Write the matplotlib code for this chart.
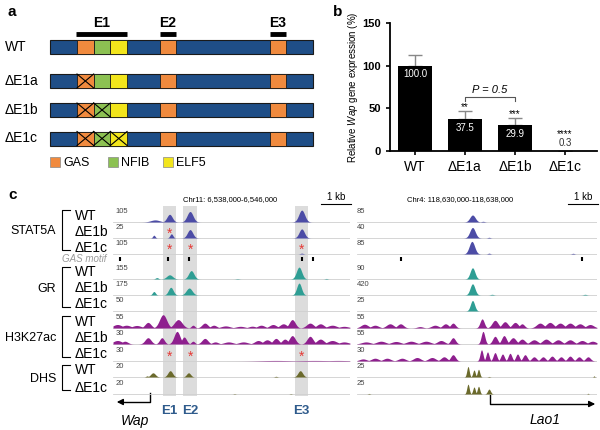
import numpy as np
import matplotlib.pyplot as plt
from matplotlib.patches import Rectangle

plt.rcParams['font.family'] = ['Liberation Sans', 'DejaVu Sans']
plt.rcParams['mathtext.fontset'] = 'custom'
plt.rcParams['mathtext.it'] = 'Liberation Sans:italic'
plt.rcParams['mathtext.rm'] = 'Liberation Sans'

# ---- panel a data ----
constructs = ['WT', 'ΔE1a', 'ΔE1b', 'ΔE1c']
deleted = [[], ['GAS'], ['GAS', 'NFIB'], ['GAS', 'NFIB', 'ELF5']]
motif_names = ['GAS', 'NFIB', 'ELF5']
motif_colors = {'GAS': '#F08A3E', 'NFIB': '#8CC152', 'ELF5': '#F2E51C'}
enh_names = ['E1', 'E2', 'E3']

# ---- panel b data ----
groups = ['WT', 'ΔE1a', 'ΔE1b', 'ΔE1c']
expr = [100.0, 37.5, 29.9, 0.3]
err = [12.5, 9.0, 8.5, 0.0]
signif = ['', '**', '***', '****']

# ---- panel c data ----
factors = ['STAT5A', 'GR', 'H3K27ac', 'DHS']
factor_rows = [['WT', 'ΔE1b', 'ΔE1c'], ['WT', 'ΔE1b', 'ΔE1c'],
               ['WT', 'ΔE1b', 'ΔE1c'], ['WT', 'ΔE1c']]
factor_colors = ['#4C4CA6', '#2E9E94', '#8E1F8E', '#6B6A2C']
scale_left = ['105', '25', '105', '155', '175', '50', '55', '30', '30', '20', '20']
scale_right = ['85', '40', '85', '90', '420', '25', '55', '55', '30', '25', '25']
enh_kb = [(1.69, 2.13), (2.36, 2.84), (6.15, 6.59)]
motif_left = [0.24, 1.86, 2.57, 6.39, 6.76]
motif_right = [1.47, 7.5]
# stars: (track index, kb)
stars_left = [(1, 1.91), (2, 1.91), (2, 2.6), (2, 6.37),
              (8, 1.91), (8, 2.6), (8, 6.37)]

# peaks per track: (center kb, height 0-1, width kb)
peaks_left = [
    [(1.42, 0.15, 0.15), (1.91, 0.55, 0.09), (2.6, 0.75, 0.1), (6.37, 0.85, 0.1)],
    [(1.38, 0.2, 0.04), (1.97, 0.3, 0.05), (2.6, 0.6, 0.09), (6.37, 0.65, 0.09)],
    [(6.37, 0.06, 0.05)],
    [(1.48, 0.1, 0.05), (1.91, 0.3, 0.1), (2.64, 0.6, 0.09), (6.28, 0.85, 0.09),
     (4.2, 0.03, 0.05), (7.2, 0.04, 0.04)],
    [(1.38, 0.25, 0.05), (1.95, 0.55, 0.08), (2.57, 0.5, 0.1), (6.28, 0.85, 0.08)],
    [],
    [(0.15, 0.25, 0.15), (0.45, 0.2, 0.15), (0.8, 0.18, 0.15), (1.18, 0.4, 0.1),
     (1.69, 0.95, 0.12), (2.2, 0.6, 0.13), (2.7, 0.2, 0.06), (3.1, 0.35, 0.1),
     (3.4, 0.2, 0.1), (3.8, 0.15, 0.15), (4.3, 0.12, 0.15), (4.7, 0.13, 0.12),
     (5.0, 0.2, 0.12), (5.4, 0.25, 0.12), (5.75, 0.3, 0.12), (6.05, 0.6, 0.1),
     (6.65, 0.35, 0.12), (7.0, 0.3, 0.12), (7.4, 0.2, 0.15), (7.8, 0.12, 0.15)],
    [(0.15, 0.25, 0.15), (0.4, 0.2, 0.1), (1.18, 0.45, 0.1), (1.65, 0.45, 0.08),
     (2.16, 0.9, 0.1), (2.4, 0.5, 0.08), (2.7, 0.2, 0.06), (3.1, 0.4, 0.1),
     (3.45, 0.15, 0.1), (3.9, 0.15, 0.15), (4.4, 0.15, 0.15), (4.9, 0.25, 0.12),
     (5.2, 0.3, 0.12), (5.5, 0.4, 0.1), (5.8, 0.35, 0.1), (6.05, 0.6, 0.1),
     (6.65, 0.55, 0.1), (7.0, 0.35, 0.12), (7.4, 0.25, 0.15), (7.8, 0.15, 0.15)],
    [(5.5, 0.04, 0.5), (6.8, 0.04, 0.6), (7.6, 0.04, 0.4)],
    [(1.15, 0.08, 0.04), (1.35, 0.3, 0.08), (1.93, 0.45, 0.08), (2.55, 0.3, 0.07),
     (5.5, 0.05, 0.04), (6.32, 0.45, 0.08)],
    [(4.1, 0.03, 0.03), (6.0, 0.03, 0.03)],
]
peaks_right = [
    [(3.85, 0.5, 0.09), (4.2, 0.05, 0.05)],
    [(3.85, 0.75, 0.09), (4.4, 0.05, 0.04)],
    [(3.83, 0.9, 0.09), (4.4, 0.06, 0.04), (7.2, 0.05, 0.04)],
    [(3.85, 0.8, 0.08)],
    [(3.85, 0.8, 0.08), (4.5, 0.05, 0.05), (7.6, 0.05, 0.05)],
    [(3.85, 0.75, 0.07)],
    [(0.25, 0.27, 0.12), (0.6, 0.2, 0.12), (1.1, 0.3, 0.12), (1.45, 0.3, 0.1),
     (2.1, 0.1, 0.1), (2.6, 0.2, 0.12), (2.95, 0.3, 0.1), (3.2, 0.35, 0.08),
     (4.17, 0.65, 0.07), (4.6, 0.55, 0.1), (4.93, 0.45, 0.1), (5.27, 0.4, 0.1),
     (5.5, 0.3, 0.08), (6.1, 0.35, 0.12), (6.43, 0.4, 0.12), (6.77, 0.35, 0.12),
     (7.1, 0.35, 0.12), (7.43, 0.3, 0.12), (7.77, 0.25, 0.12)],
    [(0.3, 0.15, 0.15), (0.8, 0.2, 0.15), (1.3, 0.18, 0.15), (1.8, 0.2, 0.15),
     (2.3, 0.2, 0.15), (2.8, 0.25, 0.12), (3.2, 0.45, 0.08), (4.2, 0.9, 0.06),
     (4.6, 0.55, 0.08), (4.9, 0.6, 0.08), (5.2, 0.45, 0.1), (5.5, 0.35, 0.1),
     (5.9, 0.3, 0.12), (6.3, 0.35, 0.12), (6.7, 0.3, 0.12), (7.1, 0.3, 0.12),
     (7.5, 0.25, 0.12), (7.85, 0.2, 0.12)],
    [(0.2, 0.15, 0.12), (0.6, 0.2, 0.12), (1.0, 0.2, 0.12), (1.5, 0.2, 0.12),
     (2.0, 0.25, 0.12), (2.5, 0.25, 0.12), (2.9, 0.3, 0.1), (3.2, 0.45, 0.08),
     (4.15, 0.8, 0.05), (4.35, 0.65, 0.05), (4.6, 0.6, 0.06), (4.85, 0.5, 0.06),
     (5.1, 0.55, 0.06), (5.35, 0.5, 0.06), (5.6, 0.45, 0.07), (5.9, 0.3, 0.08),
     (6.2, 0.3, 0.08), (6.5, 0.35, 0.08), (6.8, 0.3, 0.08), (7.1, 0.35, 0.08),
     (7.4, 0.3, 0.08), (7.7, 0.3, 0.08)],
    [(3.7, 0.75, 0.04), (3.9, 0.5, 0.04), (4.05, 0.55, 0.04), (4.4, 0.04, 0.03),
     (7.9, 0.08, 0.02)],
    [(3.7, 0.7, 0.04), (3.9, 0.5, 0.04), (4.05, 0.55, 0.04), (4.4, 0.35, 0.05),
     (0.4, 0.04, 0.03), (7.7, 0.05, 0.02)],
]

fig = plt.figure(figsize=(6, 4.3), dpi=100)

# overlay axes in pixel units for schematic parts
ov = fig.add_axes([0, 0, 1, 1])
ov.set_xlim(0, 600)
ov.set_ylim(430, 0)
ov.axis('off')

ov.text(8, 12, 'a', fontsize=11, fontweight='bold', va='center')
ov.text(333, 12, 'b', fontsize=11, fontweight='bold', va='center')
ov.text(8, 195, 'c', fontsize=11, fontweight='bold', va='center')

# ---- panel a: enhancer constructs ----
row_y = [47, 81, 110, 138.5]
box_x = [77, 93.7, 110.4]
box_w = 16.7
for i, name in enumerate(constructs):
    yc = row_y[i]
    ov.add_patch(Rectangle((50, yc - 7), 263, 14, fc='#1F4E87', ec='#1a1a1a', lw=0.8))
    for j, m in enumerate(motif_names):
        ov.add_patch(Rectangle((box_x[j], yc - 7), box_w, 14, fc=motif_colors[m],
                               ec='#1a1a1a', lw=0.6))
        if m in deleted[i]:
            ov.plot([box_x[j], box_x[j] + box_w], [yc - 7, yc + 7], color='k', lw=0.8)
            ov.plot([box_x[j], box_x[j] + box_w], [yc + 7, yc - 7], color='k', lw=0.8)
    for x0 in [160, 269.5]:
        ov.add_patch(Rectangle((x0, yc - 7), 16, 14, fc=motif_colors['GAS'],
                               ec='#1a1a1a', lw=0.6))
    ov.text(5, yc, name, fontsize=10, va='center')

# enhancer bars on top
for (x0, x1), e in zip([(76, 127), (160, 176), (269.5, 285.5)], enh_names):
    ov.plot([x0, x1], [34, 34], color='k', lw=3.5, solid_capstyle='butt')
    ov.text((x0 + x1) / 2, 23, e, fontsize=10, fontweight='bold', ha='center', va='center')

# legend
for lx, m in zip([50, 108, 163], motif_names):
    ov.add_patch(Rectangle((lx, 157), 10, 10, fc=motif_colors[m], ec='#888', lw=0.5))
    ov.text(lx + 13, 162.5, m, fontsize=9, va='center')

# ---- panel b: bar chart ----
bx = fig.add_axes([390 / 600, 1 - 151 / 430, 207 / 600, 128 / 430])
xs = np.arange(len(groups))
bx.bar(xs, expr, width=0.68, color='k', zorder=2)
bx.errorbar(xs, expr, yerr=[np.zeros(4), err], fmt='none', ecolor='#888',
            elinewidth=1, capsize=5, capthick=1, zorder=1)
for x, v, e, s in zip(xs, expr, err, signif):
    if v > 15:
        bx.text(x, v - 10, f'{v:.1f}', color='white', fontsize=7, ha='center', va='center')
    else:
        bx.text(x, v + 9, f'{v:.1f}', color='#333', fontsize=7, ha='center', va='center')
    if s:
        sy = v + e + 5 if e > 0 else v + 19
        bx.text(x, sy, s, fontsize=7, ha='center', va='center')
bx.plot([1, 1, 2, 2], [59, 63, 63, 59], color='#555', lw=0.8)
bx.text(1.5, 71, 'P = 0.5', fontsize=8, style='italic', ha='center', va='center')
bx.set_xlim(-0.5, 3.64)
bx.set_ylim(0, 150)
bx.set_yticks([0, 50, 100, 150])
bx.set_xticks(xs)
bx.set_xticklabels(groups, fontsize=10)
for lab in bx.get_yticklabels():
    lab.set_fontsize(8)
    lab.set_fontweight('bold')
bx.spines['top'].set_visible(False)
bx.spines['right'].set_visible(False)
bx.spines['left'].set_linewidth(1.3)
bx.spines['bottom'].set_linewidth(1.3)
bx.tick_params(width=1.2, length=3)
bx.set_ylabel('Relative $\\mathit{Wap}$ gene expression (%)', fontsize=7, labelpad=2)

# ---- panel c: genome tracks ----
baselines = [222, 238, 254, 279, 295, 311, 328, 344, 361, 377, 394]
track_colors = [factor_colors[0]] * 3 + [factor_colors[1]] * 3 + \
               [factor_colors[2]] * 3 + [factor_colors[3]] * 2
track_h = 14
xg = np.linspace(0, 8, 1600)


def profile(peaks):
    y = np.zeros_like(xg)
    for c, h, w in peaks:
        y = np.maximum(y, h * np.exp(-0.5 * ((xg - c) / w) ** 2))
    return np.clip(y, 0, 1)


gl = fig.add_axes([113 / 600, 1 - 396 / 430, 237 / 600, (396 - 206) / 430])
gr = fig.add_axes([357 / 600, 1 - 396 / 430, 240 / 600, (396 - 206) / 430])
for g in [gl, gr]:
    g.set_xlim(0, 8)
    g.set_ylim(396, 206)
    g.axis('off')

for a, b in enh_kb:
    gl.axvspan(a, b, color='#dcdcdc', lw=0, zorder=0)

for g, peaks, scales, tx in [(gl, peaks_left, scale_left, 0.1), (gr, peaks_right, scale_right, 0.0)]:
    for i, base in enumerate(baselines):
        y = profile(peaks[i])
        g.axhline(base, color='#cfcfcf', lw=0.6, zorder=1)
        g.fill_between(xg, base, base - track_h * y, color=track_colors[i], lw=0, zorder=2)
        g.text(tx, base - 11, scales[i], fontsize=5.5, color='#444', va='center', zorder=3)

for i, kb in stars_left:
    gl.text(kb, baselines[i] - 4, '*', color='#E53935', fontsize=10, ha='center', va='center', zorder=4)

# GAS motif ticks
gl.vlines(motif_left, 257, 261, color='k', lw=1.5)
gr.vlines(motif_right, 257, 261, color='k', lw=1.5)
ov.text(107, 259, 'GAS motif', fontsize=7, style='italic', color='#999', ha='right', va='center')

# track labels and brackets
row = 0
for f, rows in zip(factors, factor_rows):
    ys = [baselines[row + k] - 6.5 for k in range(len(rows))]
    for lab, yy in zip(rows, ys):
        ov.text(75, yy, lab, fontsize=10, va='center')
    top, bot = ys[0] - 6, ys[-1] + 2
    ov.plot([70, 62, 62, 70], [top, top, bot, bot], color='k', lw=0.8)
    ov.text(56, np.mean(ys), f, fontsize=9, ha='right', va='center')
    row += len(rows)

# headers and scale bars
ov.text(230, 200, 'Chr11: 6,538,000-6,546,000', fontsize=5.5, ha='center', va='center')
ov.text(460, 200, 'Chr4: 118,630,000-118,638,000', fontsize=5.5, ha='center', va='center')
for x0 in [321, 568]:
    ov.plot([x0, x0 + 29.6], [203.5, 203.5], color='k', lw=0.8)
    ov.text(x0 + 15, 197, '1 kb', fontsize=7, ha='center', va='center')

# enhancer labels below tracks
for e, (a, b) in zip(enh_names, enh_kb):
    ov.text(113 + (a + b) / 2 * 29.6, 411, e, fontsize=9.5, fontweight='bold',
            color='#2F5B8C', ha='center', va='center')

# genes
ov.plot([150, 150, 122], [393, 402, 402], color='k', lw=1)
ov.annotate('', xy=(114, 402), xytext=(123, 402),
            arrowprops=dict(arrowstyle='-|>', color='k', lw=1, mutation_scale=9))
ov.text(135, 421, 'Wap', fontsize=10, style='italic', ha='center', va='center')
ov.plot([490, 490, 588], [395, 404, 404], color='k', lw=1)
ov.annotate('', xy=(598, 404), xytext=(587, 404),
            arrowprops=dict(arrowstyle='-|>', color='k', lw=1, mutation_scale=9))
ov.text(545, 420, 'Lao1', fontsize=10, style='italic', ha='center', va='center')

fig.savefig('out.png', dpi=100)
